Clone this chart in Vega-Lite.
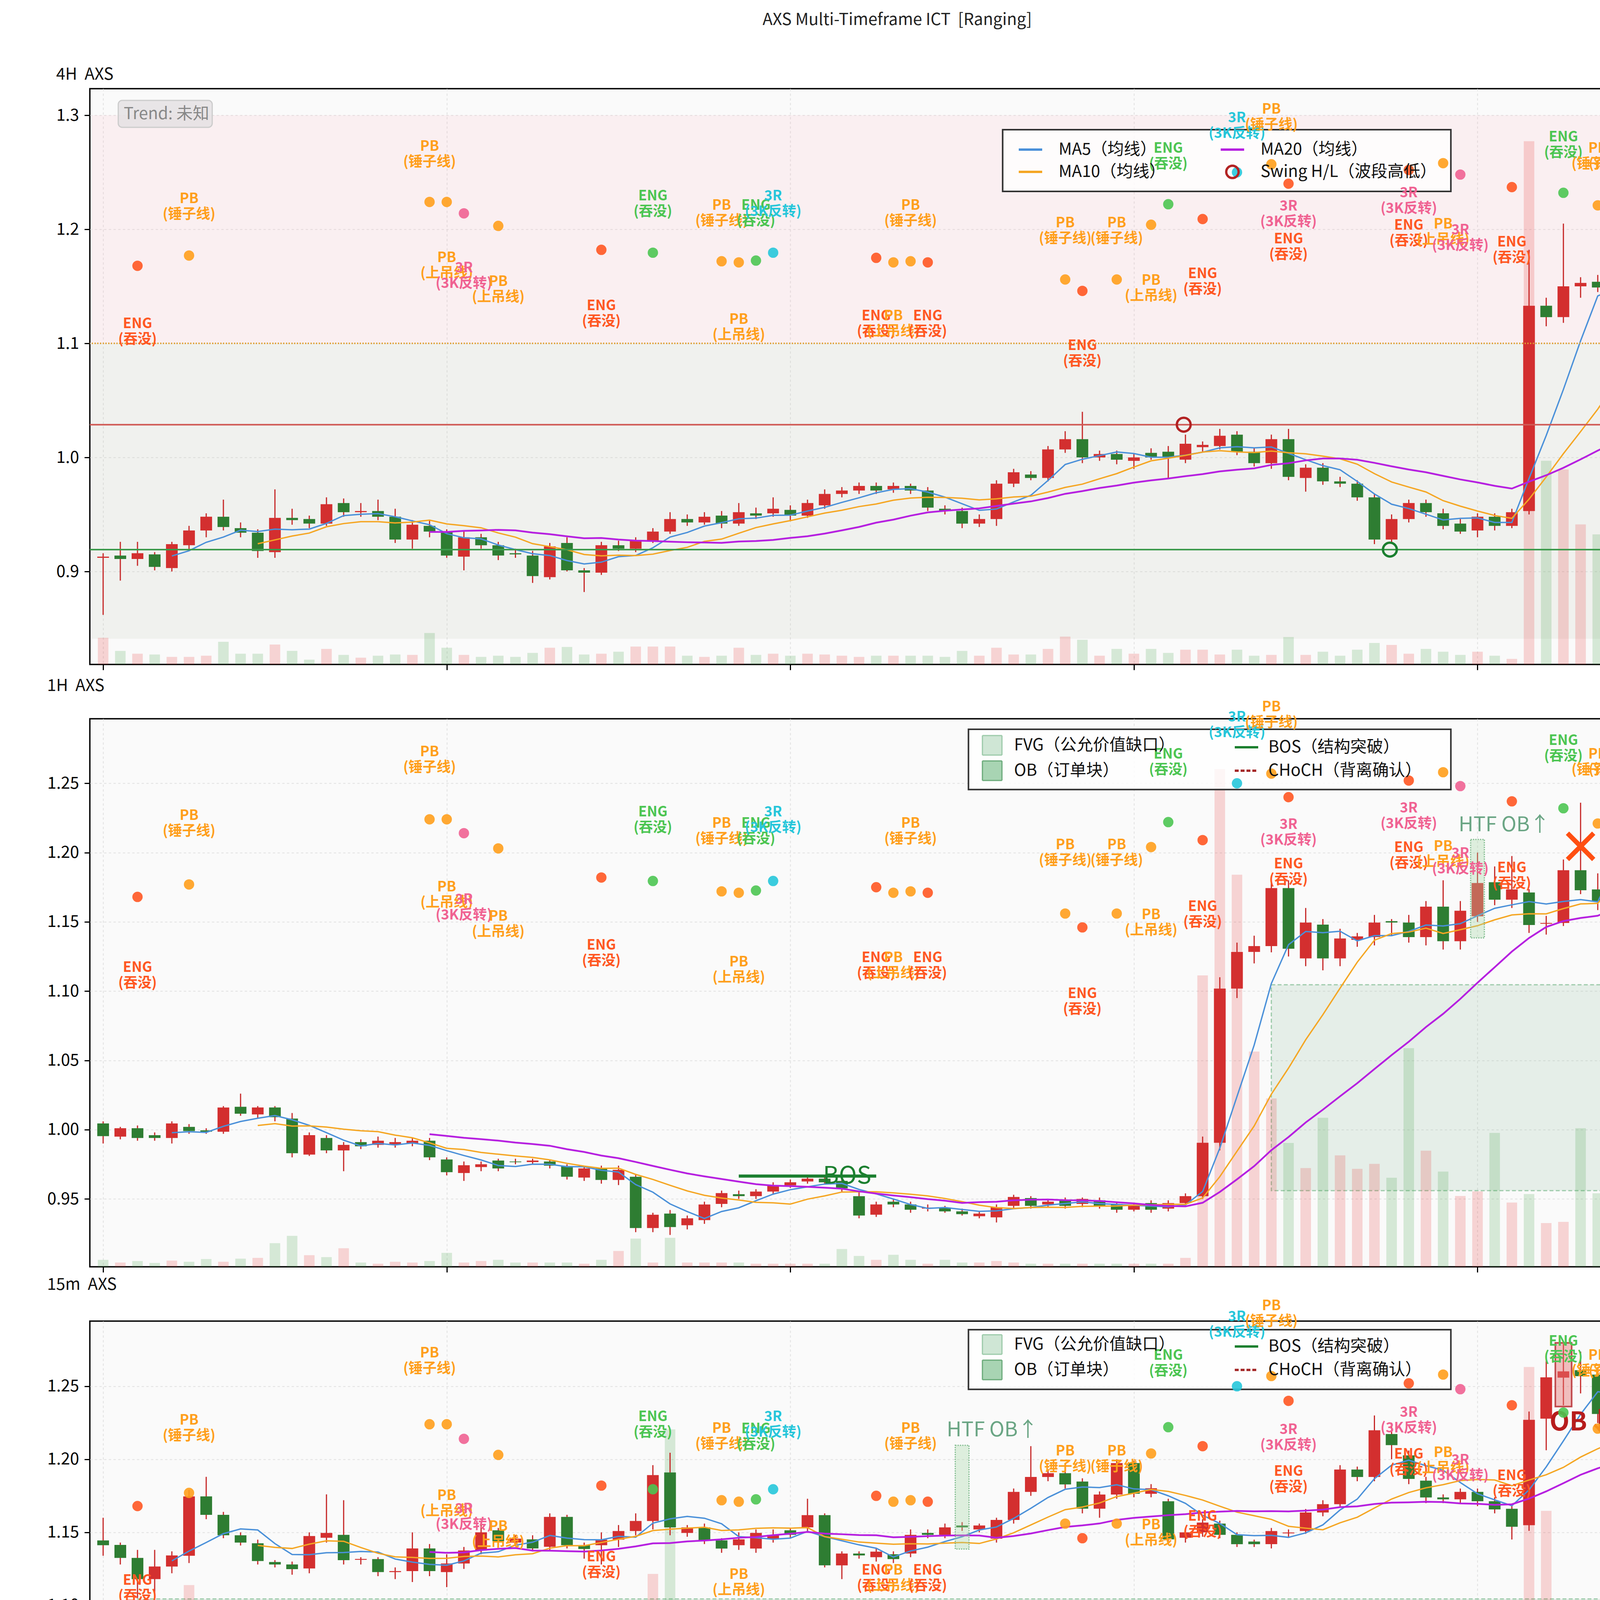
{
"$schema":"https://vega.github.io/schema/vega-lite/v6.json",
"autosize":{"type":"pad"},
"padding":{"left":69,"top":30,"right":80,"bottom":25},
"background":"white",
"title":{"text":"AXS Multi-Timeframe ICT\u00a0 [Ranging]","fontSize":42,"fontWeight":"normal","anchor":"middle","offset":95,"dx":125,"color":"#222222"},
"spacing":139,
"bounds":"flush",
"resolve":{"scale":{"stroke":"independent"},"legend":{"stroke":"independent"}},
"datasets":{
"c1":[{"i":0,"o":0.912,"h":0.916,"l":0.862,"c":0.913,"v":67},{"i":1,"o":0.914,"h":0.926,"l":0.892,"c":0.911,"v":34},{"i":2,"o":0.911,"h":0.926,"l":0.905,"c":0.916,"v":27},{"i":3,"o":0.915,"h":0.917,"l":0.901,"c":0.904,"v":25},{"i":4,"o":0.903,"h":0.926,"l":0.9,"c":0.924,"v":19},{"i":5,"o":0.923,"h":0.94,"l":0.918,"c":0.936,"v":19},{"i":6,"o":0.936,"h":0.951,"l":0.93,"c":0.948,"v":22},{"i":7,"o":0.948,"h":0.963,"l":0.936,"c":0.939,"v":57},{"i":8,"o":0.938,"h":0.943,"l":0.93,"c":0.934,"v":27},{"i":9,"o":0.934,"h":0.937,"l":0.912,"c":0.918,"v":27},{"i":10,"o":0.917,"h":0.972,"l":0.912,"c":0.947,"v":50},{"i":11,"o":0.947,"h":0.955,"l":0.941,"c":0.945,"v":34},{"i":12,"o":0.946,"h":0.949,"l":0.938,"c":0.942,"v":12},{"i":13,"o":0.942,"h":0.965,"l":0.94,"c":0.959,"v":39},{"i":14,"o":0.96,"h":0.964,"l":0.948,"c":0.952,"v":24},{"i":15,"o":0.952,"h":0.96,"l":0.948,"c":0.953,"v":17},{"i":16,"o":0.953,"h":0.963,"l":0.945,"c":0.948,"v":22},{"i":17,"o":0.948,"h":0.955,"l":0.925,"c":0.928,"v":25},{"i":18,"o":0.928,"h":0.945,"l":0.92,"c":0.941,"v":24},{"i":19,"o":0.94,"h":0.945,"l":0.93,"c":0.935,"v":79},{"i":20,"o":0.935,"h":0.937,"l":0.912,"c":0.914,"v":42},{"i":21,"o":0.913,"h":0.935,"l":0.901,"c":0.93,"v":24},{"i":22,"o":0.93,"h":0.933,"l":0.92,"c":0.923,"v":19},{"i":23,"o":0.923,"h":0.926,"l":0.91,"c":0.914,"v":22},{"i":24,"o":0.916,"h":0.92,"l":0.912,"c":0.915,"v":19},{"i":25,"o":0.914,"h":0.918,"l":0.89,"c":0.896,"v":29},{"i":26,"o":0.895,"h":0.925,"l":0.893,"c":0.922,"v":42},{"i":27,"o":0.925,"h":0.93,"l":0.9,"c":0.901,"v":44},{"i":28,"o":0.901,"h":0.903,"l":0.882,"c":0.899,"v":25},{"i":29,"o":0.899,"h":0.926,"l":0.897,"c":0.923,"v":27},{"i":30,"o":0.923,"h":0.927,"l":0.918,"c":0.92,"v":32},{"i":31,"o":0.92,"h":0.93,"l":0.917,"c":0.927,"v":45},{"i":32,"o":0.927,"h":0.938,"l":0.925,"c":0.935,"v":45},{"i":33,"o":0.935,"h":0.952,"l":0.933,"c":0.946,"v":45},{"i":34,"o":0.946,"h":0.95,"l":0.94,"c":0.943,"v":22},{"i":35,"o":0.943,"h":0.952,"l":0.941,"c":0.948,"v":19},{"i":36,"o":0.949,"h":0.953,"l":0.938,"c":0.942,"v":22},{"i":37,"o":0.942,"h":0.96,"l":0.94,"c":0.952,"v":42},{"i":38,"o":0.951,"h":0.956,"l":0.946,"c":0.949,"v":24},{"i":39,"o":0.951,"h":0.965,"l":0.948,"c":0.955,"v":27},{"i":40,"o":0.954,"h":0.958,"l":0.944,"c":0.949,"v":22},{"i":41,"o":0.949,"h":0.963,"l":0.947,"c":0.96,"v":27},{"i":42,"o":0.958,"h":0.972,"l":0.955,"c":0.968,"v":25},{"i":43,"o":0.968,"h":0.974,"l":0.965,"c":0.971,"v":22},{"i":44,"o":0.971,"h":0.978,"l":0.968,"c":0.975,"v":19},{"i":45,"o":0.975,"h":0.978,"l":0.968,"c":0.971,"v":22},{"i":46,"o":0.972,"h":0.978,"l":0.969,"c":0.975,"v":22},{"i":47,"o":0.975,"h":0.977,"l":0.968,"c":0.971,"v":22},{"i":48,"o":0.971,"h":0.974,"l":0.953,"c":0.956,"v":22},{"i":49,"o":0.955,"h":0.958,"l":0.95,"c":0.953,"v":19},{"i":50,"o":0.953,"h":0.956,"l":0.938,"c":0.942,"v":34},{"i":51,"o":0.942,"h":0.95,"l":0.939,"c":0.946,"v":22},{"i":52,"o":0.946,"h":0.98,"l":0.94,"c":0.977,"v":42},{"i":53,"o":0.977,"h":0.99,"l":0.974,"c":0.987,"v":25},{"i":54,"o":0.985,"h":0.988,"l":0.98,"c":0.982,"v":25},{"i":55,"o":0.982,"h":1.01,"l":0.979,"c":1.007,"v":39},{"i":56,"o":1.007,"h":1.023,"l":1.004,"c":1.016,"v":70},{"i":57,"o":1.016,"h":1.04,"l":0.995,"c":1.0,"v":62},{"i":58,"o":1.0,"h":1.006,"l":0.997,"c":1.003,"v":22},{"i":59,"o":1.003,"h":1.006,"l":0.994,"c":0.998,"v":39},{"i":60,"o":0.997,"h":1.003,"l":0.99,"c":1.0,"v":27},{"i":61,"o":1.004,"h":1.008,"l":0.998,"c":1.0,"v":39},{"i":62,"o":1.005,"h":1.01,"l":0.981,"c":1.0,"v":29},{"i":63,"o":0.998,"h":1.02,"l":0.995,"c":1.012,"v":37},{"i":64,"o":1.009,"h":1.014,"l":1.005,"c":1.011,"v":37},{"i":65,"o":1.01,"h":1.025,"l":1.007,"c":1.019,"v":25},{"i":66,"o":1.02,"h":1.023,"l":1.002,"c":1.005,"v":37},{"i":67,"o":1.005,"h":1.008,"l":0.992,"c":0.995,"v":22},{"i":68,"o":0.995,"h":1.02,"l":0.99,"c":1.016,"v":24},{"i":69,"o":1.016,"h":1.025,"l":0.98,"c":0.983,"v":69},{"i":70,"o":0.982,"h":0.994,"l":0.97,"c":0.991,"v":24},{"i":71,"o":0.991,"h":0.995,"l":0.976,"c":0.979,"v":32},{"i":72,"o":0.979,"h":0.983,"l":0.974,"c":0.977,"v":22},{"i":73,"o":0.977,"h":0.98,"l":0.962,"c":0.965,"v":37},{"i":74,"o":0.965,"h":0.968,"l":0.924,"c":0.928,"v":54},{"i":75,"o":0.928,"h":0.95,"l":0.925,"c":0.946,"v":49},{"i":76,"o":0.946,"h":0.963,"l":0.943,"c":0.96,"v":27},{"i":77,"o":0.96,"h":0.963,"l":0.948,"c":0.952,"v":39},{"i":78,"o":0.951,"h":0.955,"l":0.937,"c":0.94,"v":32},{"i":79,"o":0.942,"h":0.946,"l":0.933,"c":0.935,"v":24},{"i":80,"o":0.936,"h":0.951,"l":0.93,"c":0.948,"v":32},{"i":81,"o":0.948,"h":0.951,"l":0.936,"c":0.94,"v":22},{"i":82,"o":0.94,"h":0.955,"l":0.938,"c":0.952,"v":14},{"i":83,"o":0.953,"h":1.182,"l":0.95,"c":1.133,"v":1315},{"i":84,"o":1.133,"h":1.14,"l":1.115,"c":1.123,"v":512},{"i":85,"o":1.123,"h":1.205,"l":1.118,"c":1.15,"v":490},{"i":86,"o":1.15,"h":1.158,"l":1.14,"c":1.153,"v":352},{"i":87,"o":1.154,"h":1.16,"l":1.145,"c":1.149,"v":327},{"i":88,"o":1.149,"h":1.24,"l":1.145,"c":1.165,"v":284},{"i":89,"o":1.165,"h":1.26,"l":1.16,"c":1.222,"v":354}],
"c2":[{"i":0,"o":1.0045,"h":1.006,"l":0.99,"c":0.9953,"v":18},{"i":1,"o":0.995,"h":1.002,"l":0.993,"c":1.001,"v":11},{"i":2,"o":1.001,"h":1.003,"l":0.992,"c":0.994,"v":15},{"i":3,"o":0.996,"h":0.998,"l":0.992,"c":0.994,"v":10},{"i":4,"o":0.994,"h":1.006,"l":0.99,"c":1.0045,"v":16},{"i":5,"o":1.002,"h":1.004,"l":0.997,"c":0.999,"v":13},{"i":6,"o":0.9995,"h":1.001,"l":0.997,"c":0.9985,"v":20},{"i":7,"o":0.9985,"h":1.017,"l":0.997,"c":1.016,"v":13},{"i":8,"o":1.0165,"h":1.026,"l":1.01,"c":1.0115,"v":21},{"i":9,"o":1.011,"h":1.017,"l":1.008,"c":1.016,"v":23},{"i":10,"o":1.016,"h":1.017,"l":1.006,"c":1.009,"v":61},{"i":11,"o":1.008,"h":1.012,"l":0.98,"c":0.983,"v":80},{"i":12,"o":0.982,"h":0.998,"l":0.981,"c":0.996,"v":30},{"i":13,"o":0.994,"h":0.996,"l":0.983,"c":0.985,"v":25},{"i":14,"o":0.985,"h":0.991,"l":0.97,"c":0.989,"v":48},{"i":15,"o":0.991,"h":0.993,"l":0.986,"c":0.988,"v":11},{"i":16,"o":0.989,"h":0.995,"l":0.987,"c":0.992,"v":8},{"i":17,"o":0.989,"h":0.994,"l":0.987,"c":0.991,"v":13},{"i":18,"o":0.99,"h":0.994,"l":0.988,"c":0.992,"v":11},{"i":19,"o":0.992,"h":0.994,"l":0.978,"c":0.98,"v":15},{"i":20,"o":0.9785,"h":0.98,"l":0.967,"c":0.9693,"v":36},{"i":21,"o":0.9687,"h":0.977,"l":0.963,"c":0.9743,"v":11},{"i":22,"o":0.973,"h":0.977,"l":0.97,"c":0.975,"v":15},{"i":23,"o":0.9777,"h":0.979,"l":0.97,"c":0.972,"v":18},{"i":24,"o":0.977,"h":0.979,"l":0.975,"c":0.9765,"v":11},{"i":25,"o":0.9766,"h":0.979,"l":0.975,"c":0.9777,"v":11},{"i":26,"o":0.977,"h":0.978,"l":0.972,"c":0.974,"v":11},{"i":27,"o":0.9738,"h":0.975,"l":0.964,"c":0.966,"v":11},{"i":28,"o":0.9654,"h":0.974,"l":0.963,"c":0.972,"v":8},{"i":29,"o":0.972,"h":0.974,"l":0.961,"c":0.9637,"v":18},{"i":30,"o":0.9637,"h":0.974,"l":0.96,"c":0.971,"v":41},{"i":31,"o":0.966,"h":0.968,"l":0.926,"c":0.929,"v":73},{"i":32,"o":0.929,"h":0.94,"l":0.926,"c":0.9386,"v":11},{"i":33,"o":0.9394,"h":0.942,"l":0.924,"c":0.9297,"v":75},{"i":34,"o":0.931,"h":0.938,"l":0.928,"c":0.936,"v":11},{"i":35,"o":0.9347,"h":0.948,"l":0.932,"c":0.946,"v":11},{"i":36,"o":0.9464,"h":0.956,"l":0.944,"c":0.9542,"v":11},{"i":37,"o":0.9534,"h":0.956,"l":0.95,"c":0.952,"v":11},{"i":38,"o":0.952,"h":0.957,"l":0.95,"c":0.9553,"v":8},{"i":39,"o":0.9553,"h":0.962,"l":0.953,"c":0.9598,"v":8},{"i":40,"o":0.9598,"h":0.964,"l":0.958,"c":0.962,"v":8},{"i":41,"o":0.9626,"h":0.966,"l":0.961,"c":0.9646,"v":8},{"i":42,"o":0.9646,"h":0.967,"l":0.961,"c":0.962,"v":8},{"i":43,"o":0.963,"h":0.966,"l":0.955,"c":0.9576,"v":46},{"i":44,"o":0.952,"h":0.955,"l":0.936,"c":0.938,"v":28},{"i":45,"o":0.9386,"h":0.948,"l":0.937,"c":0.946,"v":18},{"i":46,"o":0.948,"h":0.95,"l":0.944,"c":0.946,"v":31},{"i":47,"o":0.946,"h":0.948,"l":0.94,"c":0.9422,"v":18},{"i":48,"o":0.943,"h":0.946,"l":0.941,"c":0.9437,"v":8},{"i":49,"o":0.9437,"h":0.945,"l":0.94,"c":0.941,"v":18},{"i":50,"o":0.941,"h":0.943,"l":0.938,"c":0.939,"v":11},{"i":51,"o":0.9375,"h":0.941,"l":0.936,"c":0.9394,"v":11},{"i":52,"o":0.9367,"h":0.946,"l":0.933,"c":0.944,"v":15},{"i":53,"o":0.945,"h":0.953,"l":0.943,"c":0.9514,"v":11},{"i":54,"o":0.9506,"h":0.952,"l":0.943,"c":0.945,"v":8},{"i":55,"o":0.946,"h":0.95,"l":0.944,"c":0.948,"v":8},{"i":56,"o":0.9492,"h":0.951,"l":0.943,"c":0.945,"v":8},{"i":57,"o":0.9464,"h":0.951,"l":0.944,"c":0.95,"v":8},{"i":58,"o":0.949,"h":0.951,"l":0.943,"c":0.945,"v":8},{"i":59,"o":0.9464,"h":0.948,"l":0.94,"c":0.9422,"v":8},{"i":60,"o":0.9422,"h":0.947,"l":0.941,"c":0.945,"v":8},{"i":61,"o":0.947,"h":0.949,"l":0.94,"c":0.9422,"v":8},{"i":62,"o":0.943,"h":0.949,"l":0.941,"c":0.947,"v":8},{"i":63,"o":0.947,"h":0.954,"l":0.945,"c":0.952,"v":23},{"i":64,"o":0.952,"h":0.995,"l":0.95,"c":0.9905,"v":753},{"i":65,"o":0.9905,"h":1.11,"l":0.985,"c":1.1018,"v":1286},{"i":66,"o":1.1018,"h":1.135,"l":1.095,"c":1.1283,"v":1013},{"i":67,"o":1.1283,"h":1.14,"l":1.12,"c":1.1325,"v":556},{"i":68,"o":1.1325,"h":1.18,"l":1.128,"c":1.1744,"v":435},{"i":69,"o":1.1744,"h":1.18,"l":1.125,"c":1.1306,"v":320},{"i":70,"o":1.1236,"h":1.16,"l":1.118,"c":1.1495,"v":255},{"i":71,"o":1.148,"h":1.152,"l":1.115,"c":1.1236,"v":385},{"i":72,"o":1.1236,"h":1.145,"l":1.118,"c":1.138,"v":288},{"i":73,"o":1.137,"h":1.142,"l":1.132,"c":1.1395,"v":253},{"i":74,"o":1.139,"h":1.155,"l":1.133,"c":1.1495,"v":266},{"i":75,"o":1.1505,"h":1.152,"l":1.14,"c":1.1495,"v":230},{"i":76,"o":1.1495,"h":1.155,"l":1.135,"c":1.139,"v":565},{"i":77,"o":1.139,"h":1.165,"l":1.133,"c":1.161,"v":300},{"i":78,"o":1.161,"h":1.18,"l":1.13,"c":1.136,"v":246},{"i":79,"o":1.136,"h":1.165,"l":1.13,"c":1.158,"v":183},{"i":80,"o":1.154,"h":1.2,"l":1.15,"c":1.178,"v":195},{"i":81,"o":1.1786,"h":1.19,"l":1.162,"c":1.166,"v":346},{"i":82,"o":1.166,"h":1.1975,"l":1.16,"c":1.1734,"v":166},{"i":83,"o":1.1712,"h":1.1736,"l":1.142,"c":1.1477,"v":188},{"i":84,"o":1.1486,"h":1.1543,"l":1.1408,"c":1.1492,"v":113},{"i":85,"o":1.1492,"h":1.195,"l":1.147,"c":1.1873,"v":116},{"i":86,"o":1.1873,"h":1.236,"l":1.17,"c":1.1728,"v":358},{"i":87,"o":1.1734,"h":1.185,"l":1.1585,"c":1.165,"v":190},{"i":88,"o":1.1658,"h":1.28,"l":1.16,"c":1.2785,"v":713},{"i":89,"o":1.261,"h":1.274,"l":1.2135,"c":1.2232,"v":258}],
"c3":[{"i":0,"o":1.1445,"h":1.16,"l":1.134,"c":1.1412,"v":453},{"i":1,"o":1.1414,"h":1.143,"l":1.128,"c":1.1325,"v":538},{"i":2,"o":1.1325,"h":1.138,"l":1.105,"c":1.118,"v":472},{"i":3,"o":1.118,"h":1.138,"l":1.106,"c":1.1266,"v":373},{"i":4,"o":1.1266,"h":1.137,"l":1.122,"c":1.1342,"v":338},{"i":5,"o":1.134,"h":1.179,"l":1.129,"c":1.1746,"v":678},{"i":6,"o":1.1746,"h":1.188,"l":1.159,"c":1.162,"v":523},{"i":7,"o":1.162,"h":1.164,"l":1.146,"c":1.148,"v":295},{"i":8,"o":1.148,"h":1.15,"l":1.141,"c":1.143,"v":172},{"i":9,"o":1.1425,"h":1.145,"l":1.128,"c":1.1304,"v":378},{"i":10,"o":1.1297,"h":1.131,"l":1.126,"c":1.128,"v":227},{"i":11,"o":1.128,"h":1.13,"l":1.121,"c":1.1248,"v":180},{"i":12,"o":1.1253,"h":1.15,"l":1.122,"c":1.1475,"v":285},{"i":13,"o":1.1463,"h":1.176,"l":1.143,"c":1.1496,"v":400},{"i":14,"o":1.1483,"h":1.172,"l":1.128,"c":1.131,"v":477},{"i":15,"o":1.1312,"h":1.133,"l":1.128,"c":1.1318,"v":473},{"i":16,"o":1.1317,"h":1.133,"l":1.12,"c":1.1228,"v":278},{"i":17,"o":1.1228,"h":1.126,"l":1.118,"c":1.1235,"v":415},{"i":18,"o":1.1235,"h":1.15,"l":1.116,"c":1.139,"v":390},{"i":19,"o":1.139,"h":1.142,"l":1.12,"c":1.1235,"v":220},{"i":20,"o":1.1228,"h":1.135,"l":1.1125,"c":1.1287,"v":132},{"i":21,"o":1.1287,"h":1.14,"l":1.125,"c":1.1376,"v":473},{"i":22,"o":1.1376,"h":1.158,"l":1.135,"c":1.15,"v":338},{"i":23,"o":1.1514,"h":1.153,"l":1.14,"c":1.144,"v":225},{"i":24,"o":1.143,"h":1.148,"l":1.141,"c":1.1457,"v":228},{"i":25,"o":1.1452,"h":1.148,"l":1.137,"c":1.139,"v":285},{"i":26,"o":1.1401,"h":1.163,"l":1.138,"c":1.1606,"v":315},{"i":27,"o":1.1606,"h":1.162,"l":1.139,"c":1.1412,"v":270},{"i":28,"o":1.1412,"h":1.143,"l":1.132,"c":1.1386,"v":235},{"i":29,"o":1.1412,"h":1.15,"l":1.128,"c":1.145,"v":320},{"i":30,"o":1.145,"h":1.155,"l":1.14,"c":1.1509,"v":238},{"i":31,"o":1.1509,"h":1.163,"l":1.148,"c":1.1578,"v":373},{"i":32,"o":1.1578,"h":1.196,"l":1.152,"c":1.1892,"v":708},{"i":33,"o":1.191,"h":1.2045,"l":1.148,"c":1.1534,"v":1095},{"i":34,"o":1.1496,"h":1.155,"l":1.147,"c":1.1534,"v":223},{"i":35,"o":1.1534,"h":1.156,"l":1.142,"c":1.1445,"v":333},{"i":36,"o":1.1445,"h":1.146,"l":1.136,"c":1.1389,"v":203},{"i":37,"o":1.1412,"h":1.15,"l":1.138,"c":1.1452,"v":223},{"i":38,"o":1.1389,"h":1.152,"l":1.136,"c":1.1496,"v":343},{"i":39,"o":1.1452,"h":1.152,"l":1.143,"c":1.1483,"v":220},{"i":40,"o":1.1514,"h":1.153,"l":1.146,"c":1.1483,"v":250},{"i":41,"o":1.1534,"h":1.173,"l":1.15,"c":1.1618,"v":468},{"i":42,"o":1.1618,"h":1.163,"l":1.126,"c":1.1274,"v":528},{"i":43,"o":1.1274,"h":1.137,"l":1.118,"c":1.1355,"v":290},{"i":44,"o":1.1355,"h":1.137,"l":1.132,"c":1.1342,"v":107},{"i":45,"o":1.133,"h":1.139,"l":1.13,"c":1.1368,"v":130},{"i":46,"o":1.135,"h":1.137,"l":1.129,"c":1.1317,"v":168},{"i":47,"o":1.1355,"h":1.152,"l":1.133,"c":1.1483,"v":185},{"i":48,"o":1.1496,"h":1.152,"l":1.146,"c":1.1483,"v":265},{"i":49,"o":1.1483,"h":1.156,"l":1.146,"c":1.1534,"v":158},{"i":50,"o":1.1547,"h":1.157,"l":1.151,"c":1.1534,"v":112},{"i":51,"o":1.152,"h":1.156,"l":1.15,"c":1.1547,"v":222},{"i":52,"o":1.1457,"h":1.16,"l":1.143,"c":1.1585,"v":188},{"i":53,"o":1.1585,"h":1.18,"l":1.156,"c":1.1777,"v":305},{"i":54,"o":1.1777,"h":1.209,"l":1.175,"c":1.1879,"v":577},{"i":55,"o":1.1879,"h":1.193,"l":1.185,"c":1.1905,"v":270},{"i":56,"o":1.1905,"h":1.193,"l":1.18,"c":1.1828,"v":418},{"i":57,"o":1.1848,"h":1.187,"l":1.163,"c":1.1662,"v":207},{"i":58,"o":1.1662,"h":1.178,"l":1.16,"c":1.1759,"v":138},{"i":59,"o":1.1759,"h":1.2,"l":1.173,"c":1.1974,"v":190},{"i":60,"o":1.1974,"h":1.199,"l":1.174,"c":1.1764,"v":220},{"i":61,"o":1.1764,"h":1.183,"l":1.174,"c":1.1802,"v":158},{"i":62,"o":1.1713,"h":1.173,"l":1.142,"c":1.1452,"v":280},{"i":63,"o":1.1463,"h":1.152,"l":1.143,"c":1.15,"v":270},{"i":64,"o":1.15,"h":1.159,"l":1.147,"c":1.1567,"v":142},{"i":65,"o":1.156,"h":1.158,"l":1.146,"c":1.1483,"v":125},{"i":66,"o":1.1483,"h":1.15,"l":1.14,"c":1.1419,"v":188},{"i":67,"o":1.1437,"h":1.145,"l":1.14,"c":1.1419,"v":128},{"i":68,"o":1.1419,"h":1.153,"l":1.139,"c":1.1509,"v":83},{"i":69,"o":1.1493,"h":1.152,"l":1.147,"c":1.1499,"v":82},{"i":70,"o":1.1509,"h":1.166,"l":1.149,"c":1.1636,"v":115},{"i":71,"o":1.1636,"h":1.172,"l":1.161,"c":1.1693,"v":72},{"i":72,"o":1.1693,"h":1.196,"l":1.167,"c":1.193,"v":173},{"i":73,"o":1.193,"h":1.195,"l":1.185,"c":1.1879,"v":135},{"i":74,"o":1.1879,"h":1.23,"l":1.185,"c":1.2199,"v":408},{"i":75,"o":1.2173,"h":1.225,"l":1.2,"c":1.2097,"v":538},{"i":76,"o":1.2027,"h":1.206,"l":1.183,"c":1.1866,"v":340},{"i":77,"o":1.1854,"h":1.188,"l":1.17,"c":1.1739,"v":245},{"i":78,"o":1.1739,"h":1.176,"l":1.17,"c":1.1726,"v":185},{"i":79,"o":1.1726,"h":1.18,"l":1.17,"c":1.1777,"v":175},{"i":80,"o":1.1777,"h":1.18,"l":1.168,"c":1.1713,"v":248},{"i":81,"o":1.1713,"h":1.174,"l":1.163,"c":1.1657,"v":202},{"i":82,"o":1.1661,"h":1.1697,"l":1.1451,"c":1.1538,"v":318},{"i":83,"o":1.1549,"h":1.2327,"l":1.151,"c":1.227,"v":1262},{"i":84,"o":1.2278,"h":1.2724,"l":1.2062,"c":1.2561,"v":877},{"i":85,"o":1.2559,"h":1.279,"l":1.237,"c":1.2602,"v":600},{"i":86,"o":1.261,"h":1.2737,"l":1.2451,"c":1.2569,"v":412},{"i":87,"o":1.258,"h":1.2604,"l":1.2248,"c":1.231,"v":425},{"i":88,"o":1.2302,"h":1.2327,"l":1.2135,"c":1.2217,"v":265},{"i":89,"o":1.223,"h":1.2232,"l":1.222,"c":1.2224,"v":0}],
"c4":[{"i":0,"o":1.1702,"h":1.174,"l":1.169,"c":1.1725,"v":20},{"i":1,"o":1.1725,"h":1.177,"l":1.171,"c":1.1753,"v":48},{"i":2,"o":1.1753,"h":1.176,"l":1.167,"c":1.1682,"v":48},{"i":3,"o":1.1692,"h":1.17,"l":1.168,"c":1.1688,"v":13},{"i":4,"o":1.1682,"h":1.177,"l":1.166,"c":1.1753,"v":33},{"i":5,"o":1.1753,"h":1.179,"l":1.174,"c":1.1776,"v":33},{"i":6,"o":1.1776,"h":1.185,"l":1.176,"c":1.1815,"v":68},{"i":7,"o":1.1815,"h":1.195,"l":1.18,"c":1.1937,"v":122},{"i":8,"o":1.1928,"h":1.196,"l":1.191,"c":1.1934,"v":114},{"i":9,"o":1.1937,"h":1.195,"l":1.18,"c":1.1815,"v":66},{"i":10,"o":1.1815,"h":1.183,"l":1.175,"c":1.1767,"v":83},{"i":11,"o":1.1759,"h":1.177,"l":1.173,"c":1.1747,"v":15},{"i":12,"o":1.1753,"h":1.18,"l":1.174,"c":1.1787,"v":70},{"i":13,"o":1.1787,"h":1.189,"l":1.177,"c":1.1875,"v":53},{"i":14,"o":1.1875,"h":1.189,"l":1.179,"c":1.181,"v":43},{"i":15,"o":1.181,"h":1.187,"l":1.18,"c":1.1852,"v":55},{"i":16,"o":1.1852,"h":1.198,"l":1.184,"c":1.1965,"v":90},{"i":17,"o":1.1957,"h":1.21,"l":1.195,"c":1.2087,"v":165},{"i":18,"o":1.2087,"h":1.231,"l":1.207,"c":1.2192,"v":526},{"i":19,"o":1.2183,"h":1.228,"l":1.206,"c":1.2234,"v":246},{"i":20,"o":1.2234,"h":1.229,"l":1.218,"c":1.222,"v":298},{"i":21,"o":1.222,"h":1.224,"l":1.212,"c":1.2135,"v":216},{"i":22,"o":1.2135,"h":1.215,"l":1.2,"c":1.207,"v":138},{"i":23,"o":1.207,"h":1.209,"l":1.198,"c":1.203,"v":256},{"i":24,"o":1.203,"h":1.205,"l":1.197,"c":1.1993,"v":125},{"i":25,"o":1.1985,"h":1.2,"l":1.195,"c":1.197,"v":186},{"i":26,"o":1.1965,"h":1.198,"l":1.184,"c":1.1894,"v":168},{"i":27,"o":1.1889,"h":1.19,"l":1.184,"c":1.1852,"v":170},{"i":28,"o":1.1846,"h":1.187,"l":1.183,"c":1.186,"v":81},{"i":29,"o":1.186,"h":1.187,"l":1.18,"c":1.1824,"v":153},{"i":30,"o":1.1818,"h":1.183,"l":1.178,"c":1.1795,"v":93},{"i":31,"o":1.1795,"h":1.181,"l":1.172,"c":1.1753,"v":175},{"i":32,"o":1.1747,"h":1.181,"l":1.173,"c":1.1795,"v":45},{"i":33,"o":1.1795,"h":1.181,"l":1.172,"c":1.173,"v":58},{"i":34,"o":1.1728,"h":1.175,"l":1.171,"c":1.1732,"v":90},{"i":35,"o":1.1725,"h":1.174,"l":1.166,"c":1.1696,"v":93},{"i":36,"o":1.1696,"h":1.172,"l":1.168,"c":1.171,"v":91},{"i":37,"o":1.1713,"h":1.172,"l":1.167,"c":1.1705,"v":98},{"i":38,"o":1.1705,"h":1.174,"l":1.169,"c":1.1725,"v":25},{"i":39,"o":1.1739,"h":1.181,"l":1.173,"c":1.1795,"v":121},{"i":40,"o":1.1795,"h":1.183,"l":1.178,"c":1.181,"v":86},{"i":41,"o":1.181,"h":1.187,"l":1.18,"c":1.1852,"v":50},{"i":42,"o":1.1844,"h":1.186,"l":1.179,"c":1.1804,"v":51},{"i":43,"o":1.181,"h":1.182,"l":1.177,"c":1.1787,"v":68},{"i":44,"o":1.1787,"h":1.186,"l":1.178,"c":1.1838,"v":76},{"i":45,"o":1.1838,"h":1.185,"l":1.172,"c":1.1747,"v":203},{"i":46,"o":1.173,"h":1.174,"l":1.17,"c":1.1719,"v":83},{"i":47,"o":1.1719,"h":1.175,"l":1.167,"c":1.173,"v":108},{"i":48,"o":1.1753,"h":1.177,"l":1.17,"c":1.1719,"v":58},{"i":49,"o":1.171,"h":1.174,"l":1.169,"c":1.1725,"v":121},{"i":50,"o":1.171,"h":1.172,"l":1.167,"c":1.169,"v":58},{"i":51,"o":1.169,"h":1.171,"l":1.165,"c":1.1668,"v":173},{"i":52,"o":1.1662,"h":1.167,"l":1.158,"c":1.1597,"v":28},{"i":53,"o":1.1597,"h":1.17,"l":1.158,"c":1.166,"v":196},{"i":54,"o":1.1668,"h":1.168,"l":1.156,"c":1.1617,"v":176},{"i":55,"o":1.1617,"h":1.163,"l":1.154,"c":1.1555,"v":101},{"i":56,"o":1.1563,"h":1.161,"l":1.152,"c":1.1583,"v":86},{"i":57,"o":1.1563,"h":1.158,"l":1.146,"c":1.1484,"v":121},{"i":58,"o":1.1476,"h":1.157,"l":1.146,"c":1.1549,"v":93},{"i":59,"o":1.1555,"h":1.158,"l":1.153,"c":1.1569,"v":30},{"i":60,"o":1.1541,"h":1.213,"l":1.152,"c":1.2064,"v":936},{"i":61,"o":1.176,"h":1.18,"l":1.165,"c":1.168,"v":1108},{"i":62,"o":1.2036,"h":1.2234,"l":1.2,"c":1.2163,"v":291},{"i":63,"o":1.2163,"h":1.232,"l":1.214,"c":1.2276,"v":418},{"i":64,"o":1.2276,"h":1.229,"l":1.205,"c":1.215,"v":416},{"i":65,"o":1.2107,"h":1.218,"l":1.209,"c":1.215,"v":183},{"i":66,"o":1.2163,"h":1.252,"l":1.214,"c":1.2494,"v":353},{"i":67,"o":1.2503,"h":1.262,"l":1.248,"c":1.2574,"v":578},{"i":68,"o":1.2545,"h":1.259,"l":1.252,"c":1.2565,"v":356},{"i":69,"o":1.2559,"h":1.258,"l":1.238,"c":1.2404,"v":221},{"i":70,"o":1.2404,"h":1.25,"l":1.239,"c":1.2475,"v":308},{"i":71,"o":1.2475,"h":1.262,"l":1.246,"c":1.2588,"v":321},{"i":72,"o":1.2588,"h":1.278,"l":1.257,"c":1.2743,"v":225},{"i":73,"o":1.2729,"h":1.275,"l":1.261,"c":1.263,"v":215},{"i":74,"o":1.2644,"h":1.277,"l":1.262,"c":1.2743,"v":230},{"i":75,"o":1.2658,"h":1.2737,"l":1.264,"c":1.2729,"v":231},{"i":76,"o":1.2729,"h":1.275,"l":1.255,"c":1.2574,"v":158},{"i":77,"o":1.252,"h":1.2585,"l":1.248,"c":1.2567,"v":125},{"i":78,"o":1.256,"h":1.2596,"l":1.2534,"c":1.2585,"v":141},{"i":79,"o":1.2585,"h":1.2628,"l":1.2426,"c":1.2483,"v":156},{"i":80,"o":1.2485,"h":1.2528,"l":1.2438,"c":1.2481,"v":208},{"i":81,"o":1.2503,"h":1.2553,"l":1.2474,"c":1.2534,"v":276},{"i":82,"o":1.2542,"h":1.2545,"l":1.235,"c":1.2373,"v":153},{"i":83,"o":1.2373,"h":1.2422,"l":1.2283,"c":1.2314,"v":122},{"i":84,"o":1.2303,"h":1.2331,"l":1.2226,"c":1.228,"v":141},{"i":85,"o":1.2275,"h":1.2463,"l":1.2268,"c":1.2328,"v":140},{"i":86,"o":1.2317,"h":1.233,"l":1.2225,"c":1.226,"v":106},{"i":87,"o":1.2205,"h":1.223,"l":1.218,"c":1.2215,"v":78},{"i":88,"o":1.22,"h":1.2235,"l":1.2165,"c":1.2212,"v":118},{"i":89,"o":1.2236,"h":1.2238,"l":1.2231,"c":1.2233,"v":0}],
"dots":[{"i":2,"y":1.168,"k":"ENG_dn"},{"i":5,"y":1.177,"k":"PB"},{"i":19,"y":1.224,"k":"PB"},{"i":20,"y":1.224,"k":"PB"},{"i":21,"y":1.214,"k":"3R_dn"},{"i":23,"y":1.203,"k":"PB"},{"i":29,"y":1.182,"k":"ENG_dn"},{"i":32,"y":1.1795,"k":"ENG_up"},{"i":36,"y":1.172,"k":"PB"},{"i":37,"y":1.171,"k":"PB"},{"i":38,"y":1.1726,"k":"ENG_up"},{"i":39,"y":1.1795,"k":"3R_up"},{"i":45,"y":1.175,"k":"ENG_dn"},{"i":46,"y":1.171,"k":"PB"},{"i":47,"y":1.172,"k":"PB"},{"i":48,"y":1.171,"k":"ENG_dn"},{"i":56,"y":1.156,"k":"PB"},{"i":57,"y":1.146,"k":"ENG_dn"},{"i":59,"y":1.156,"k":"PB"},{"i":61,"y":1.204,"k":"PB"},{"i":62,"y":1.222,"k":"ENG_up"},{"i":64,"y":1.209,"k":"ENG_dn"},{"i":66,"y":1.25,"k":"3R_up"},{"i":68,"y":1.257,"k":"PB"},{"i":69,"y":1.24,"k":"ENG_dn"},{"i":76,"y":1.252,"k":"ENG_dn"},{"i":78,"y":1.258,"k":"PB"},{"i":79,"y":1.248,"k":"3R_dn"},{"i":82,"y":1.237,"k":"ENG_dn"},{"i":85,"y":1.232,"k":"ENG_up"},{"i":87,"y":1.221,"k":"PB"},{"i":88,"y":1.223,"k":"PB"}],
"labs":[{"i":2,"y":1.117,"t":"ENG\n(吞没)","k":"ENG_dn"},{"i":5,"y":1.2266,"t":"PB\n(锤子线)","k":"PB"},{"i":19,"y":1.2727,"t":"PB\n(锤子线)","k":"PB"},{"i":20,"y":1.175,"t":"PB\n(上吊线)","k":"PB"},{"i":21,"y":1.166,"t":"3R\n(3K反转)","k":"3R_dn"},{"i":23,"y":1.154,"t":"PB\n(上吊线)","k":"PB"},{"i":29,"y":1.133,"t":"ENG\n(吞没)","k":"ENG_dn"},{"i":32,"y":1.2291,"t":"ENG\n(吞没)","k":"ENG_up"},{"i":36,"y":1.221,"t":"PB\n(锤子线)","k":"PB"},{"i":37,"y":1.121,"t":"PB\n(上吊线)","k":"PB"},{"i":38,"y":1.2209,"t":"ENG\n(吞没)","k":"ENG_up"},{"i":39,"y":1.2291,"t":"3R\n(3K反转)","k":"3R_up"},{"i":45,"y":1.124,"t":"ENG\n(吞没)","k":"ENG_dn"},{"i":46,"y":1.124,"t":"PB\n(上吊线)","k":"PB"},{"i":47,"y":1.221,"t":"PB\n(锤子线)","k":"PB"},{"i":48,"y":1.124,"t":"ENG\n(吞没)","k":"ENG_dn"},{"i":56,"y":1.2056,"t":"PB\n(锤子线)","k":"PB"},{"i":57,"y":1.098,"t":"ENG\n(吞没)","k":"ENG_dn"},{"i":59,"y":1.2056,"t":"PB\n(锤子线)","k":"PB"},{"i":61,"y":1.155,"t":"PB\n(上吊线)","k":"PB"},{"i":62,"y":1.271,"t":"ENG\n(吞没)","k":"ENG_up"},{"i":64,"y":1.161,"t":"ENG\n(吞没)","k":"ENG_dn"},{"i":66,"y":1.2976,"t":"3R\n(3K反转)","k":"3R_up"},{"i":68,"y":1.305,"t":"PB\n(锤子线)","k":"PB"},{"i":69,"y":1.2203,"t":"3R\n(3K反转)","k":"3R_dn"},{"i":69,"y":1.1916,"t":"ENG\n(吞没)","k":"ENG_dn"},{"i":76,"y":1.232,"t":"3R\n(3K反转)","k":"3R_dn"},{"i":76,"y":1.2035,"t":"ENG\n(吞没)","k":"ENG_dn"},{"i":78,"y":1.2045,"t":"PB\n(上吊线)","k":"PB"},{"i":79,"y":1.1993,"t":"3R\n(3K反转)","k":"3R_dn"},{"i":82,"y":1.1888,"t":"ENG\n(吞没)","k":"ENG_dn"},{"i":85,"y":1.2808,"t":"ENG\n(吞没)","k":"ENG_up"},{"i":87,"y":1.271,"t":"PB\n(锤子线)","k":"PB"},{"i":88,"y":1.271,"t":"PB\n(锤子线)","k":"PB"}],
"rects":[{"p":1,"k":"prem","x1":-0.66,"x2":89.7,"y1":1.1,"y2":1.3},{"p":1,"k":"disc","x1":-0.66,"x2":89.7,"y1":0.841,"y2":1.1},{"p":1,"k":"trend","x1":0.88,"x2":6.35,"y1":1.2894,"y2":1.313},{"p":1,"k":"leg","x1":52.36,"x2":78.45,"y1":1.2332,"y2":1.2873},{"p":2,"k":"fvg","x1":68.0,"x2":89.5,"y1":0.956,"y2":1.1046},{"p":2,"k":"htf","x1":79.6,"x2":80.4,"y1":1.1384,"y2":1.2095},{"p":2,"k":"ob","x1":87.53,"x2":88.48,"y1":1.1458,"y2":1.28},{"p":2,"k":"fvgs","x1":88.98,"x2":89.52,"y1":1.1853,"y2":1.2133},{"p":2,"k":"leg","x1":50.37,"x2":78.45,"y1":1.2455,"y2":1.289},{"p":3,"k":"fvg","x1":2.0,"x2":89.5,"y1":0.9567,"y2":1.1044},{"p":3,"k":"htf","x1":49.6,"x2":50.4,"y1":1.1386,"y2":1.2096},{"p":3,"k":"ob","x1":84.53,"x2":85.48,"y1":1.2361,"y2":1.2797},{"p":3,"k":"fvgb","x1":89.0,"x2":89.5,"y1":1.2227,"y2":1.2262},{"p":3,"k":"leg","x1":50.37,"x2":78.45,"y1":1.2479,"y2":1.2887},{"p":4,"k":"fvg","x1":0.0,"x2":89.5,"y1":0.9566,"y2":1.1046},{"p":4,"k":"leg","x1":51.12,"x2":78.45,"y1":1.2438,"y2":1.2886}],
"hl":[{"p":1,"k":"res","y":1.0287},{"p":1,"k":"sup","y":0.9192},{"p":1,"k":"mid","y":1.1},{"p":4,"k":"eqh","y":1.2224},{"p":4,"k":"eql","y":1.2159}],
"seg":[{"p":2,"k":"bos","x1":37,"x2":45,"y":0.9665}],
"pt":[{"p":1,"k":"swh","i":62.9,"y":1.0287},{"p":1,"k":"swl","i":74.9,"y":0.9192},{"p":2,"k":"x","i":86,"y":1.2045},{"p":3,"k":"x","i":88,"y":1.2361},{"p":4,"k":"entry","i":72,"y":1.28},{"p":4,"k":"disp","i":82,"y":1.2373},{"p":4,"k":"disp","i":86,"y":1.2204}],
"tx":[{"p":1,"k":"trend","i":1.2,"y":1.3012,"t":"Trend: 未知"},{"p":2,"k":"bos","i":41.9,"y":0.9665,"t":"BOS"},{"p":2,"k":"htf","i":78.9,"y":1.2198,"t":"HTF OB↑"},{"p":2,"k":"ob","i":87.25,"y":1.1342,"t":"OB↓"},{"p":3,"k":"htf","i":49.1,"y":1.22,"t":"HTF OB↑"},{"p":3,"k":"ob","i":84.2,"y":1.2252,"t":"OB↓"},{"p":4,"k":"eqh","i":87.1,"y":1.2294,"t":"EQH"},{"p":4,"k":"eql","i":87.3,"y":1.21,"t":"EQL"},{"p":4,"k":"entry","i":72,"y":1.2875,"t":"Entry Ref"}]
},
"vconcat":[
{
"title":{"text":"4H\u00a0 AXS","anchor":"start","fontSize":42,"fontWeight":"normal","offset":14},
"width":3984,"height":1474,
"resolve":{"scale":{"y":"independent"}},
"layer":[
{"data":{"name":"rects"},"layer":[
{"transform":[{"filter":"datum.p==1 && datum.k=='prem'"}],"mark":{"type":"rect","fill":"#ff8fab","fillOpacity":0.1},"encoding":{"x":{"field":"x1","type":"quantitative","scale":{"domain":[-0.66,89.7],"nice":false,"zero":false},"axis":{"title":null}},"x2":{"field":"x2"},"y":{"field":"y1","type":"quantitative","scale":{"domain":[0.8185,1.3233],"nice":false,"zero":false},"axis":null},"y2":{"field":"y2"}}},
{"transform":[{"filter":"datum.p==1 && datum.k=='disc'"}],"mark":{"type":"rect","fill":"#a9b8a0","fillOpacity":0.12},"encoding":{"x":{"field":"x1","type":"quantitative","scale":{"domain":[-0.66,89.7],"nice":false,"zero":false},"axis":{"title":null}},"x2":{"field":"x2"},"y":{"field":"y1","type":"quantitative","scale":{"domain":[0.8185,1.3233],"nice":false,"zero":false},"axis":null},"y2":{"field":"y2"}}}
]},
{"data":{"name":"c1"},"mark":{"type":"bar","size":27,"opacity":0.2},"encoding":{"x":{"field":"i","type":"quantitative","scale":{"domain":[-0.66,89.7],"nice":false,"zero":false},"axis":{"title":null}},"y":{"field":"v","type":"quantitative","scale":{"domain":[0,1447],"nice":false},"axis":null},"color":{"condition":{"test":"datum.c>=datum.o","value":"#e53935"},"value":"#43a047"}}},
{"layer":[
{"data":{"name":"c1"},"mark":{"type":"rule","color":"#c62828","strokeWidth":3},"encoding":{"x":{"field":"i","type":"quantitative","scale":{"domain":[-0.66,89.7],"nice":false,"zero":false},"axis":{"values":[0,20,40,60,80],"labels":false,"title":null,"grid":true}},"y":{"field":"l","type":"quantitative","scale":{"domain":[0.8185,1.3233],"nice":false,"zero":false},"axis":{"orient":"left","values":[0.9,1.0,1.1,1.2,1.3],"format":".1f","title":null,"grid":true}},"y2":{"field":"h"}}},
{"data":{"name":"c1"},"mark":{"type":"bar","size":30},"encoding":{"x":{"field":"i","type":"quantitative","scale":{"domain":[-0.66,89.7],"nice":false,"zero":false},"axis":{"title":null}},"y":{"field":"o","type":"quantitative","scale":{"domain":[0.8185,1.3233],"nice":false,"zero":false},"axis":{"title":null}},"y2":{"field":"c"},"color":{"condition":{"test":"datum.c>=datum.o","value":"#d32f2f"},"value":"#2e7d32"}}},
{"data":{"name":"c1"},"transform":[{"window":[{"op":"mean","field":"c","as":"m"},{"op":"count","as":"n"}],"frame":[-4,0],"sort":[{"field":"i","order":"ascending"}]},{"filter":"datum.n==5"}],"mark":{"type":"line","strokeWidth":3.5},"encoding":{"x":{"field":"i","type":"quantitative","scale":{"domain":[-0.66,89.7],"nice":false,"zero":false},"axis":{"title":null}},"y":{"field":"m","type":"quantitative","scale":{"domain":[0.8185,1.3233],"nice":false,"zero":false},"axis":{"title":null}},"stroke":{"datum":"MA5（均线）","type":"nominal","scale":{"domain":["MA5（均线）","MA10（均线）","MA20（均线）","Swing H/L（波段高低）"],"range":["#4a90d9","#f5a623","#b620e0","#b22222"]},"legend":{"title":null,"orient":"none","legendX":2375,"legendY":123,"columns":2,"columnPadding":128,"rowPadding":3,"padding":0,"symbolType":"stroke","symbolSize":3600,"symbolStrokeWidth":6,"labelFontSize":42,"labelOffset":39,"labelColor":"#111111","labelLimit":1000,"encode":{"symbols":{"update":{"shape":{"signal":"datum.value === 'Swing H/L（波段高低）' ? 'circle' : 'stroke'"},"size":{"signal":"datum.value === 'Swing H/L（波段高低）' ? 1000 : 3600"},"fill":{"value":"transparent"}}}}}}}},
{"data":{"name":"c1"},"transform":[{"window":[{"op":"mean","field":"c","as":"m"},{"op":"count","as":"n"}],"frame":[-9,0],"sort":[{"field":"i","order":"ascending"}]},{"filter":"datum.n==10"}],"mark":{"type":"line","strokeWidth":3.5},"encoding":{"x":{"field":"i","type":"quantitative","scale":{"domain":[-0.66,89.7],"nice":false,"zero":false},"axis":{"title":null}},"y":{"field":"m","type":"quantitative","scale":{"domain":[0.8185,1.3233],"nice":false,"zero":false},"axis":{"title":null}},"stroke":{"datum":"MA10（均线）","type":"nominal"}}},
{"data":{"name":"c1"},"transform":[{"window":[{"op":"mean","field":"c","as":"m"},{"op":"count","as":"n"}],"frame":[-19,0],"sort":[{"field":"i","order":"ascending"}]},{"filter":"datum.n==20"}],"mark":{"type":"line","strokeWidth":4.5},"encoding":{"x":{"field":"i","type":"quantitative","scale":{"domain":[-0.66,89.7],"nice":false,"zero":false},"axis":{"title":null}},"y":{"field":"m","type":"quantitative","scale":{"domain":[0.8185,1.3233],"nice":false,"zero":false},"axis":{"title":null}},"stroke":{"datum":"MA20（均线）","type":"nominal"}}},
{"data":{"name":"hl"},"transform":[{"filter":"datum.p==1 && datum.k=='res'"}],"mark":{"type":"rule","color":"#d05a55","strokeWidth":4},"encoding":{"y":{"field":"y","type":"quantitative","scale":{"domain":[0.8185,1.3233],"nice":false,"zero":false},"axis":{"title":null}}}},
{"data":{"name":"hl"},"transform":[{"filter":"datum.p==1 && datum.k=='sup'"}],"mark":{"type":"rule","color":"#3c9a4c","strokeWidth":4},"encoding":{"y":{"field":"y","type":"quantitative","scale":{"domain":[0.8185,1.3233],"nice":false,"zero":false},"axis":{"title":null}}}},
{"data":{"name":"hl"},"transform":[{"filter":"datum.p==1 && datum.k=='mid'"}],"mark":{"type":"rule","color":"#e0a030","strokeWidth":4,"strokeDash":[3,4]},"encoding":{"y":{"field":"y","type":"quantitative","scale":{"domain":[0.8185,1.3233],"nice":false,"zero":false},"axis":{"title":null}}}},
{"data":{"name":"rects"},"transform":[{"filter":"datum.p==1 && datum.k=='leg'"}],"mark":{"type":"rect","fill":"#ffffff","fillOpacity":0.8,"stroke":"#333333","strokeWidth":4},"encoding":{"x":{"field":"x1","type":"quantitative","scale":{"domain":[-0.66,89.7],"nice":false,"zero":false},"axis":{"title":null}},"x2":{"field":"x2"},"y":{"field":"y1","type":"quantitative","scale":{"domain":[0.8185,1.3233],"nice":false,"zero":false},"axis":{"title":null}},"y2":{"field":"y2"}}},
{"data":{"name":"rects"},"transform":[{"filter":"datum.p==1 && datum.k=='trend'"}],"mark":{"type":"rect","fill":"#e4e1e3","fillOpacity":0.85,"stroke":"#cccccc","strokeWidth":3,"cornerRadius":10},"encoding":{"x":{"field":"x1","type":"quantitative","scale":{"domain":[-0.66,89.7],"nice":false,"zero":false},"axis":{"title":null}},"x2":{"field":"x2"},"y":{"field":"y1","type":"quantitative","scale":{"domain":[0.8185,1.3233],"nice":false,"zero":false},"axis":{"title":null}},"y2":{"field":"y2"}}},
{"data":{"name":"tx"},"transform":[{"filter":"datum.p==1 && datum.k=='trend'"}],"mark":{"type":"text","align":"left","baseline":"middle","fontSize":42,"color":"#888888"},"encoding":{"x":{"field":"i","type":"quantitative","scale":{"domain":[-0.66,89.7],"nice":false,"zero":false},"axis":{"title":null}},"y":{"field":"y","type":"quantitative","scale":{"domain":[0.8185,1.3233],"nice":false,"zero":false},"axis":{"title":null}},"text":{"field":"t"}}},
{"data":{"name":"pt"},"transform":[{"filter":"datum.p==1"}],"mark":{"type":"point","filled":false,"size":1250,"strokeWidth":6,"opacity":1},"encoding":{"x":{"field":"i","type":"quantitative","scale":{"domain":[-0.66,89.7],"nice":false,"zero":false},"axis":{"title":null}},"y":{"field":"y","type":"quantitative","scale":{"domain":[0.8185,1.3233],"nice":false,"zero":false},"axis":{"title":null}},"color":{"condition":{"test":"datum.k=='swh'","value":"#b22222"},"value":"#1b7f2f"}}},
{"data":{"name":"dots"},"mark":{"type":"point","filled":true,"size":700,"opacity":0.9},"encoding":{"x":{"field":"i","type":"quantitative","scale":{"domain":[-0.66,89.7],"nice":false,"zero":false},"axis":{"title":null}},"y":{"field":"y","type":"quantitative","scale":{"domain":[0.8185,1.3233],"nice":false,"zero":false},"axis":{"title":null}},"color":{"field":"k","type":"nominal","scale":{"domain":["ENG_dn","ENG_up","PB","3R_dn","3R_up"],"range":["#ff5722","#4cc552","#ff9f1c","#f06292","#26c6da"]},"legend":null}}},
{"data":{"name":"labs"},"mark":{"type":"text","lineBreak":"\n","fontSize":36,"fontWeight":"bold","lineHeight":40,"align":"center","baseline":"middle"},"encoding":{"x":{"field":"i","type":"quantitative","scale":{"domain":[-0.66,89.7],"nice":false,"zero":false},"axis":{"title":null}},"y":{"field":"y","type":"quantitative","scale":{"domain":[0.8185,1.3233],"nice":false,"zero":false},"axis":{"title":null}},"text":{"field":"t"},"color":{"field":"k","type":"nominal","scale":{"domain":["ENG_dn","ENG_up","PB","3R_dn","3R_up"],"range":["#ff5722","#4cc552","#ff9f1c","#f06292","#26c6da"]},"legend":null}}}
]}
]
},
{
"title":{"text":"1H\u00a0 AXS","anchor":"start","fontSize":42,"fontWeight":"normal","offset":14},
"width":3984,"height":1403,
"resolve":{"scale":{"y":"independent"}},
"layer":[
{"data":{"name":"rects"},"transform":[{"filter":"datum.p==2 && datum.k=='fvg'"}],"mark":{"type":"rect","fill":"#8fbf9f","fillOpacity":0.2,"stroke":"#9ccaa9","strokeWidth":3,"strokeDash":[10,6]},"encoding":{"x":{"field":"x1","type":"quantitative","scale":{"domain":[-0.66,89.7],"nice":false,"zero":false},"axis":{"title":null}},"x2":{"field":"x2"},"y":{"field":"y1","type":"quantitative","scale":{"domain":[0.901,1.2966],"nice":false,"zero":false},"axis":null},"y2":{"field":"y2"}}},
{"data":{"name":"c2"},"mark":{"type":"bar","size":27,"opacity":0.2},"encoding":{"x":{"field":"i","type":"quantitative","scale":{"domain":[-0.66,89.7],"nice":false,"zero":false},"axis":{"title":null}},"y":{"field":"v","type":"quantitative","scale":{"domain":[0,1416],"nice":false},"axis":null},"color":{"condition":{"test":"datum.c>=datum.o","value":"#e53935"},"value":"#43a047"}}},
{"layer":[
{"data":{"name":"c2"},"mark":{"type":"rule","color":"#c62828","strokeWidth":3},"encoding":{"x":{"field":"i","type":"quantitative","scale":{"domain":[-0.66,89.7],"nice":false,"zero":false},"axis":{"values":[0,20,40,60,80],"labels":false,"title":null,"grid":true}},"y":{"field":"l","type":"quantitative","scale":{"domain":[0.901,1.2966],"nice":false,"zero":false},"axis":{"orient":"left","values":[0.95,1.0,1.05,1.1,1.15,1.2,1.25],"format":".2f","title":null,"grid":true}},"y2":{"field":"h"}}},
{"data":{"name":"c2"},"mark":{"type":"bar","size":30},"encoding":{"x":{"field":"i","type":"quantitative","scale":{"domain":[-0.66,89.7],"nice":false,"zero":false},"axis":{"title":null}},"y":{"field":"o","type":"quantitative","scale":{"domain":[0.901,1.2966],"nice":false,"zero":false},"axis":{"title":null}},"y2":{"field":"c"},"color":{"condition":{"test":"datum.c>=datum.o","value":"#d32f2f"},"value":"#2e7d32"}}},
{"data":{"name":"c2"},"transform":[{"window":[{"op":"mean","field":"c","as":"m"},{"op":"count","as":"n"}],"frame":[-4,0],"sort":[{"field":"i","order":"ascending"}]},{"filter":"datum.n==5"}],"mark":{"type":"line","strokeWidth":3.5,"color":"#4a90d9"},"encoding":{"x":{"field":"i","type":"quantitative","scale":{"domain":[-0.66,89.7],"nice":false,"zero":false},"axis":{"title":null}},"y":{"field":"m","type":"quantitative","scale":{"domain":[0.901,1.2966],"nice":false,"zero":false},"axis":{"title":null}}}},
{"data":{"name":"c2"},"transform":[{"window":[{"op":"mean","field":"c","as":"m"},{"op":"count","as":"n"}],"frame":[-9,0],"sort":[{"field":"i","order":"ascending"}]},{"filter":"datum.n==10"}],"mark":{"type":"line","strokeWidth":3.5,"color":"#f5a623"},"encoding":{"x":{"field":"i","type":"quantitative","scale":{"domain":[-0.66,89.7],"nice":false,"zero":false},"axis":{"title":null}},"y":{"field":"m","type":"quantitative","scale":{"domain":[0.901,1.2966],"nice":false,"zero":false},"axis":{"title":null}}}},
{"data":{"name":"c2"},"transform":[{"window":[{"op":"mean","field":"c","as":"m"},{"op":"count","as":"n"}],"frame":[-19,0],"sort":[{"field":"i","order":"ascending"}]},{"filter":"datum.n==20"}],"mark":{"type":"line","strokeWidth":4.5,"color":"#b620e0"},"encoding":{"x":{"field":"i","type":"quantitative","scale":{"domain":[-0.66,89.7],"nice":false,"zero":false},"axis":{"title":null}},"y":{"field":"m","type":"quantitative","scale":{"domain":[0.901,1.2966],"nice":false,"zero":false},"axis":{"title":null}}}},
{"data":{"name":"rects"},"transform":[{"filter":"datum.p==2 && datum.k=='leg'"}],"mark":{"type":"rect","fill":"#ffffff","fillOpacity":0.8,"stroke":"#333333","strokeWidth":4},"encoding":{"x":{"field":"x1","type":"quantitative","scale":{"domain":[-0.66,89.7],"nice":false,"zero":false},"axis":{"title":null}},"x2":{"field":"x2"},"y":{"field":"y1","type":"quantitative","scale":{"domain":[0.901,1.2966],"nice":false,"zero":false},"axis":{"title":null}},"y2":{"field":"y2"}}},
{"data":{"name":"rects"},"transform":[{"filter":"datum.p==2 && datum.k=='htf'"}],"mark":{"type":"rect","fill":"#a5d6a7","fillOpacity":0.35,"stroke":"#7cb98a","strokeWidth":3,"strokeDash":[3,3]},"encoding":{"x":{"field":"x1","type":"quantitative","scale":{"domain":[-0.66,89.7],"nice":false,"zero":false},"axis":{"title":null}},"x2":{"field":"x2"},"y":{"field":"y1","type":"quantitative","scale":{"domain":[0.901,1.2966],"nice":false,"zero":false},"axis":{"title":null}},"y2":{"field":"y2"}}},
{"data":{"name":"rects"},"transform":[{"filter":"datum.p==2 && datum.k=='ob'"}],"mark":{"type":"rect","fill":"#e57373","fillOpacity":0.45,"stroke":"#c0474a","strokeWidth":4},"encoding":{"x":{"field":"x1","type":"quantitative","scale":{"domain":[-0.66,89.7],"nice":false,"zero":false},"axis":{"title":null}},"x2":{"field":"x2"},"y":{"field":"y1","type":"quantitative","scale":{"domain":[0.901,1.2966],"nice":false,"zero":false},"axis":{"title":null}},"y2":{"field":"y2"}}},
{"data":{"name":"rects"},"transform":[{"filter":"datum.p==2 && datum.k=='fvgs'"}],"mark":{"type":"rect","fill":"#c8e6c9","fillOpacity":0.8,"stroke":"#81c784","strokeWidth":3},"encoding":{"x":{"field":"x1","type":"quantitative","scale":{"domain":[-0.66,89.7],"nice":false,"zero":false},"axis":{"title":null}},"x2":{"field":"x2"},"y":{"field":"y1","type":"quantitative","scale":{"domain":[0.901,1.2966],"nice":false,"zero":false},"axis":{"title":null}},"y2":{"field":"y2"}}},
{"data":{"name":"seg"},"transform":[{"filter":"datum.p==2"}],"mark":{"type":"rule","strokeWidth":8},"encoding":{"x":{"field":"x1","type":"quantitative","scale":{"domain":[-0.66,89.7],"nice":false,"zero":false},"axis":{"title":null}},"x2":{"field":"x2"},"y":{"field":"y","type":"quantitative","scale":{"domain":[0.901,1.2966],"nice":false,"zero":false},"axis":{"title":null}},"stroke":{"datum":"BOS（结构突破）","type":"nominal","scale":{"domain":["FVG（公允价值缺口）","OB（订单块）","BOS（结构突破）","CHoCH（背离确认）"],"range":["#9ccaa9","#6aaa7a","#1b7f2f","#a52a2a"]},"legend":{"title":null,"orient":"none","legendX":2289,"legendY":47,"columns":2,"columnPadding":141,"rowPadding":3,"padding":0,"symbolType":"stroke","symbolSize":3600,"symbolStrokeWidth":6,"labelFontSize":42,"labelOffset":35,"labelColor":"#111111","labelLimit":1000,"encode":{"symbols":{"update":{"shape":{"signal":"datum.value === 'FVG（公允价值缺口）' ? 'square' : (datum.value === 'OB（订单块）' ? 'square' : 'stroke')"},"size":{"signal":"datum.value === 'FVG（公允价值缺口）' ? 2500 : (datum.value === 'OB（订单块）' ? 2500 : 3600)"},"fill":{"signal":"datum.value === 'FVG（公允价值缺口）' ? '#cfe6d5' : (datum.value === 'OB（订单块）' ? '#a8d4b3' : 'transparent')"},"fillOpacity":{"value":1},"strokeWidth":{"signal":"datum.value === 'FVG（公允价值缺口）' ? 3 : (datum.value === 'OB（订单块）' ? 3 : 6)"},"strokeDash":{"signal":"datum.value === 'CHoCH（背离确认）' ? [10,5] : [1,0]"}}}}}}}},
{"data":{"name":"tx"},"transform":[{"filter":"datum.p==2 && datum.k=='bos'"}],"mark":{"type":"text","align":"left","baseline":"middle","fontSize":62,"color":"#1b7f2f"},"encoding":{"x":{"field":"i","type":"quantitative","scale":{"domain":[-0.66,89.7],"nice":false,"zero":false},"axis":{"title":null}},"y":{"field":"y","type":"quantitative","scale":{"domain":[0.901,1.2966],"nice":false,"zero":false},"axis":{"title":null}},"text":{"field":"t"}}},
{"data":{"name":"tx"},"transform":[{"filter":"datum.p==2 && datum.k=='htf'"}],"mark":{"type":"text","align":"left","baseline":"middle","fontSize":52,"color":"#6aa584"},"encoding":{"x":{"field":"i","type":"quantitative","scale":{"domain":[-0.66,89.7],"nice":false,"zero":false},"axis":{"title":null}},"y":{"field":"y","type":"quantitative","scale":{"domain":[0.901,1.2966],"nice":false,"zero":false},"axis":{"title":null}},"text":{"field":"t"}}},
{"data":{"name":"tx"},"transform":[{"filter":"datum.p==2 && datum.k=='ob'"}],"mark":{"type":"text","align":"left","baseline":"middle","fontSize":70,"fontWeight":"bold","color":"#b71c1c"},"encoding":{"x":{"field":"i","type":"quantitative","scale":{"domain":[-0.66,89.7],"nice":false,"zero":false},"axis":{"title":null}},"y":{"field":"y","type":"quantitative","scale":{"domain":[0.901,1.2966],"nice":false,"zero":false},"axis":{"title":null}},"text":{"field":"t"}}},
{"data":{"name":"pt"},"transform":[{"filter":"datum.p==2"}],"mark":{"type":"point","shape":"M-1,-1L1,1M1,-1L-1,1","filled":false,"size":4500,"strokeWidth":12,"color":"#ff4f12","opacity":1},"encoding":{"x":{"field":"i","type":"quantitative","scale":{"domain":[-0.66,89.7],"nice":false,"zero":false},"axis":{"title":null}},"y":{"field":"y","type":"quantitative","scale":{"domain":[0.901,1.2966],"nice":false,"zero":false},"axis":{"title":null}}}},
{"data":{"name":"dots"},"mark":{"type":"point","filled":true,"size":700,"opacity":0.9},"encoding":{"x":{"field":"i","type":"quantitative","scale":{"domain":[-0.66,89.7],"nice":false,"zero":false},"axis":{"title":null}},"y":{"field":"y","type":"quantitative","scale":{"domain":[0.901,1.2966],"nice":false,"zero":false},"axis":{"title":null}},"color":{"field":"k","type":"nominal","scale":{"domain":["ENG_dn","ENG_up","PB","3R_dn","3R_up"],"range":["#ff5722","#4cc552","#ff9f1c","#f06292","#26c6da"]},"legend":null}}},
{"data":{"name":"labs"},"mark":{"type":"text","lineBreak":"\n","fontSize":36,"fontWeight":"bold","lineHeight":40,"align":"center","baseline":"middle"},"encoding":{"x":{"field":"i","type":"quantitative","scale":{"domain":[-0.66,89.7],"nice":false,"zero":false},"axis":{"title":null}},"y":{"field":"y","type":"quantitative","scale":{"domain":[0.901,1.2966],"nice":false,"zero":false},"axis":{"title":null}},"text":{"field":"t"},"color":{"field":"k","type":"nominal","scale":{"domain":["ENG_dn","ENG_up","PB","3R_dn","3R_up"],"range":["#ff5722","#4cc552","#ff9f1c","#f06292","#26c6da"]},"legend":null}}}
]}
]
},
{
"title":{"text":"15m\u00a0 AXS","anchor":"start","fontSize":42,"fontWeight":"normal","offset":14},
"width":3984,"height":1324,
"resolve":{"scale":{"y":"independent"}},
"layer":[
{"data":{"name":"rects"},"transform":[{"filter":"datum.p==3 && datum.k=='fvg'"}],"mark":{"type":"rect","fill":"#8fbf9f","fillOpacity":0.2,"stroke":"#9ccaa9","strokeWidth":3,"strokeDash":[10,6]},"encoding":{"x":{"field":"x1","type":"quantitative","scale":{"domain":[-0.66,89.7],"nice":false,"zero":false},"axis":{"title":null}},"x2":{"field":"x2"},"y":{"field":"y1","type":"quantitative","scale":{"domain":[0.9406,1.2946],"nice":false,"zero":false},"axis":null},"y2":{"field":"y2"}}},
{"data":{"name":"c3"},"mark":{"type":"bar","size":27,"opacity":0.2},"encoding":{"x":{"field":"i","type":"quantitative","scale":{"domain":[-0.66,89.7],"nice":false,"zero":false},"axis":{"title":null}},"y":{"field":"v","type":"quantitative","scale":{"domain":[0,1385],"nice":false},"axis":null},"color":{"condition":{"test":"datum.c>=datum.o","value":"#e53935"},"value":"#43a047"}}},
{"layer":[
{"data":{"name":"c3"},"mark":{"type":"rule","color":"#c62828","strokeWidth":3},"encoding":{"x":{"field":"i","type":"quantitative","scale":{"domain":[-0.66,89.7],"nice":false,"zero":false},"axis":{"values":[0,20,40,60,80],"labels":false,"title":null,"grid":true}},"y":{"field":"l","type":"quantitative","scale":{"domain":[0.9406,1.2946],"nice":false,"zero":false},"axis":{"orient":"left","values":[0.95,1.0,1.05,1.1,1.15,1.2,1.25],"format":".2f","title":null,"grid":true}},"y2":{"field":"h"}}},
{"data":{"name":"c3"},"mark":{"type":"bar","size":30},"encoding":{"x":{"field":"i","type":"quantitative","scale":{"domain":[-0.66,89.7],"nice":false,"zero":false},"axis":{"title":null}},"y":{"field":"o","type":"quantitative","scale":{"domain":[0.9406,1.2946],"nice":false,"zero":false},"axis":{"title":null}},"y2":{"field":"c"},"color":{"condition":{"test":"datum.c>=datum.o","value":"#d32f2f"},"value":"#2e7d32"}}},
{"data":{"name":"c3"},"transform":[{"window":[{"op":"mean","field":"c","as":"m"},{"op":"count","as":"n"}],"frame":[-4,0],"sort":[{"field":"i","order":"ascending"}]},{"filter":"datum.n==5"}],"mark":{"type":"line","strokeWidth":3.5,"color":"#4a90d9"},"encoding":{"x":{"field":"i","type":"quantitative","scale":{"domain":[-0.66,89.7],"nice":false,"zero":false},"axis":{"title":null}},"y":{"field":"m","type":"quantitative","scale":{"domain":[0.9406,1.2946],"nice":false,"zero":false},"axis":{"title":null}}}},
{"data":{"name":"c3"},"transform":[{"window":[{"op":"mean","field":"c","as":"m"},{"op":"count","as":"n"}],"frame":[-9,0],"sort":[{"field":"i","order":"ascending"}]},{"filter":"datum.n==10"}],"mark":{"type":"line","strokeWidth":3.5,"color":"#f5a623"},"encoding":{"x":{"field":"i","type":"quantitative","scale":{"domain":[-0.66,89.7],"nice":false,"zero":false},"axis":{"title":null}},"y":{"field":"m","type":"quantitative","scale":{"domain":[0.9406,1.2946],"nice":false,"zero":false},"axis":{"title":null}}}},
{"data":{"name":"c3"},"transform":[{"window":[{"op":"mean","field":"c","as":"m"},{"op":"count","as":"n"}],"frame":[-19,0],"sort":[{"field":"i","order":"ascending"}]},{"filter":"datum.n==20"}],"mark":{"type":"line","strokeWidth":4.5,"color":"#b620e0"},"encoding":{"x":{"field":"i","type":"quantitative","scale":{"domain":[-0.66,89.7],"nice":false,"zero":false},"axis":{"title":null}},"y":{"field":"m","type":"quantitative","scale":{"domain":[0.9406,1.2946],"nice":false,"zero":false},"axis":{"title":null}}}},
{"data":{"name":"rects"},"transform":[{"filter":"datum.p==3 && datum.k=='leg'"}],"mark":{"type":"rect","fill":"#ffffff","fillOpacity":0.8,"stroke":"#333333","strokeWidth":4},"encoding":{"x":{"field":"x1","type":"quantitative","scale":{"domain":[-0.66,89.7],"nice":false,"zero":false},"axis":{"title":null}},"x2":{"field":"x2"},"y":{"field":"y1","type":"quantitative","scale":{"domain":[0.9406,1.2946],"nice":false,"zero":false},"axis":{"title":null}},"y2":{"field":"y2"}}},
{"data":{"name":"rects"},"transform":[{"filter":"datum.p==3 && datum.k=='htf'"}],"mark":{"type":"rect","fill":"#a5d6a7","fillOpacity":0.35,"stroke":"#7cb98a","strokeWidth":3,"strokeDash":[3,3]},"encoding":{"x":{"field":"x1","type":"quantitative","scale":{"domain":[-0.66,89.7],"nice":false,"zero":false},"axis":{"title":null}},"x2":{"field":"x2"},"y":{"field":"y1","type":"quantitative","scale":{"domain":[0.9406,1.2946],"nice":false,"zero":false},"axis":{"title":null}},"y2":{"field":"y2"}}},
{"data":{"name":"rects"},"transform":[{"filter":"datum.p==3 && datum.k=='ob'"}],"mark":{"type":"rect","fill":"#e57373","fillOpacity":0.45,"stroke":"#c0474a","strokeWidth":4},"encoding":{"x":{"field":"x1","type":"quantitative","scale":{"domain":[-0.66,89.7],"nice":false,"zero":false},"axis":{"title":null}},"x2":{"field":"x2"},"y":{"field":"y1","type":"quantitative","scale":{"domain":[0.9406,1.2946],"nice":false,"zero":false},"axis":{"title":null}},"y2":{"field":"y2"}}},
{"data":{"name":"rects"},"transform":[{"filter":"datum.p==3 && datum.k=='fvgb'"}],"mark":{"type":"rect","fill":"#f8bbd0","fillOpacity":0.5,"stroke":"#d88a9a","strokeWidth":3},"encoding":{"x":{"field":"x1","type":"quantitative","scale":{"domain":[-0.66,89.7],"nice":false,"zero":false},"axis":{"title":null}},"x2":{"field":"x2"},"y":{"field":"y1","type":"quantitative","scale":{"domain":[0.9406,1.2946],"nice":false,"zero":false},"axis":{"title":null}},"y2":{"field":"y2"}}},
{"data":{"name":"seg"},"transform":[{"filter":"datum.p==3"}],"mark":{"type":"rule","strokeWidth":8},"encoding":{"x":{"field":"x1","type":"quantitative","scale":{"domain":[-0.66,89.7],"nice":false,"zero":false},"axis":{"title":null}},"x2":{"field":"x2"},"y":{"field":"y","type":"quantitative","scale":{"domain":[0.9406,1.2946],"nice":false,"zero":false},"axis":{"title":null}},"stroke":{"datum":"BOS（结构突破）","type":"nominal","scale":{"domain":["FVG（公允价值缺口）","OB（订单块）","BOS（结构突破）","CHoCH（背离确认）"],"range":["#9ccaa9","#6aaa7a","#1b7f2f","#a52a2a"]},"legend":{"title":null,"orient":"none","legendX":2289,"legendY":39,"columns":2,"columnPadding":141,"rowPadding":3,"padding":0,"symbolType":"stroke","symbolSize":3600,"symbolStrokeWidth":6,"labelFontSize":42,"labelOffset":35,"labelColor":"#111111","labelLimit":1000,"encode":{"symbols":{"update":{"shape":{"signal":"datum.value === 'FVG（公允价值缺口）' ? 'square' : (datum.value === 'OB（订单块）' ? 'square' : 'stroke')"},"size":{"signal":"datum.value === 'FVG（公允价值缺口）' ? 2500 : (datum.value === 'OB（订单块）' ? 2500 : 3600)"},"fill":{"signal":"datum.value === 'FVG（公允价值缺口）' ? '#cfe6d5' : (datum.value === 'OB（订单块）' ? '#a8d4b3' : 'transparent')"},"fillOpacity":{"value":1},"strokeWidth":{"signal":"datum.value === 'FVG（公允价值缺口）' ? 3 : (datum.value === 'OB（订单块）' ? 3 : 6)"},"strokeDash":{"signal":"datum.value === 'CHoCH（背离确认）' ? [10,5] : [1,0]"}}}}}}}},
{"data":{"name":"tx"},"transform":[{"filter":"datum.p==3 && datum.k=='htf'"}],"mark":{"type":"text","align":"left","baseline":"middle","fontSize":52,"color":"#6aa584"},"encoding":{"x":{"field":"i","type":"quantitative","scale":{"domain":[-0.66,89.7],"nice":false,"zero":false},"axis":{"title":null}},"y":{"field":"y","type":"quantitative","scale":{"domain":[0.9406,1.2946],"nice":false,"zero":false},"axis":{"title":null}},"text":{"field":"t"}}},
{"data":{"name":"tx"},"transform":[{"filter":"datum.p==3 && datum.k=='ob'"}],"mark":{"type":"text","align":"left","baseline":"middle","fontSize":66,"fontWeight":"bold","color":"#b71c1c"},"encoding":{"x":{"field":"i","type":"quantitative","scale":{"domain":[-0.66,89.7],"nice":false,"zero":false},"axis":{"title":null}},"y":{"field":"y","type":"quantitative","scale":{"domain":[0.9406,1.2946],"nice":false,"zero":false},"axis":{"title":null}},"text":{"field":"t"}}},
{"data":{"name":"pt"},"transform":[{"filter":"datum.p==3"}],"mark":{"type":"point","shape":"M-1,-1L1,1M1,-1L-1,1","filled":false,"size":4500,"strokeWidth":12,"color":"#ff4f12","opacity":1},"encoding":{"x":{"field":"i","type":"quantitative","scale":{"domain":[-0.66,89.7],"nice":false,"zero":false},"axis":{"title":null}},"y":{"field":"y","type":"quantitative","scale":{"domain":[0.9406,1.2946],"nice":false,"zero":false},"axis":{"title":null}}}},
{"data":{"name":"dots"},"mark":{"type":"point","filled":true,"size":700,"opacity":0.9},"encoding":{"x":{"field":"i","type":"quantitative","scale":{"domain":[-0.66,89.7],"nice":false,"zero":false},"axis":{"title":null}},"y":{"field":"y","type":"quantitative","scale":{"domain":[0.9406,1.2946],"nice":false,"zero":false},"axis":{"title":null}},"color":{"field":"k","type":"nominal","scale":{"domain":["ENG_dn","ENG_up","PB","3R_dn","3R_up"],"range":["#ff5722","#4cc552","#ff9f1c","#f06292","#26c6da"]},"legend":null}}},
{"data":{"name":"labs"},"mark":{"type":"text","lineBreak":"\n","fontSize":36,"fontWeight":"bold","lineHeight":40,"align":"center","baseline":"middle"},"encoding":{"x":{"field":"i","type":"quantitative","scale":{"domain":[-0.66,89.7],"nice":false,"zero":false},"axis":{"title":null}},"y":{"field":"y","type":"quantitative","scale":{"domain":[0.9406,1.2946],"nice":false,"zero":false},"axis":{"title":null}},"text":{"field":"t"},"color":{"field":"k","type":"nominal","scale":{"domain":["ENG_dn","ENG_up","PB","3R_dn","3R_up"],"range":["#ff5722","#4cc552","#ff9f1c","#f06292","#26c6da"]},"legend":null}}}
]}
]
},
{
"title":{"text":"3m\u00a0 AXS","anchor":"start","fontSize":42,"fontWeight":"normal","offset":14},
"width":3984,"height":1257,
"resolve":{"scale":{"y":"independent"}},
"layer":[
{"data":{"name":"rects"},"transform":[{"filter":"datum.p==4 && datum.k=='fvg'"}],"mark":{"type":"rect","fill":"#8fbf9f","fillOpacity":0.2,"stroke":"#9ccaa9","strokeWidth":3,"strokeDash":[10,6]},"encoding":{"x":{"field":"x1","type":"quantitative","scale":{"domain":[-0.66,89.7],"nice":false,"zero":false},"axis":{"title":null}},"x2":{"field":"x2"},"y":{"field":"y1","type":"quantitative","scale":{"domain":[0.941,1.2954],"nice":false,"zero":false},"axis":null},"y2":{"field":"y2"}}},
{"data":{"name":"c4"},"mark":{"type":"bar","size":27,"opacity":0.2},"encoding":{"x":{"field":"i","type":"quantitative","scale":{"domain":[-0.66,89.7],"nice":false,"zero":false},"axis":{"title":null}},"y":{"field":"v","type":"quantitative","scale":{"domain":[0,1253],"nice":false},"axis":null},"color":{"condition":{"test":"datum.c>=datum.o","value":"#e53935"},"value":"#43a047"}}},
{"layer":[
{"data":{"name":"c4"},"mark":{"type":"rule","color":"#c62828","strokeWidth":3},"encoding":{"x":{"field":"i","type":"quantitative","scale":{"domain":[-0.66,89.7],"nice":false,"zero":false},"axis":{"values":[0,11,22,33,44,55,66,77,88],"labelExpr":"['06-20 21:18','06-20 21:51','06-20 22:24','06-20 22:57','06-20 23:30','06-21 00:03','06-21 00:36','06-21 01:09','06-21 01:42'][round(datum.value/11)]","labelAngle":-30,"labelAlign":"right","labelBaseline":"top","labelLimit":600,"labelOverlap":false,"labelFlush":false,"title":"Date","titleFontSize":34,"titleColor":"#333333","titleFontWeight":"normal","titlePadding":20,"grid":true}},"y":{"field":"l","type":"quantitative","scale":{"domain":[0.941,1.2954],"nice":false,"zero":false},"axis":{"orient":"left","values":[0.95,1.0,1.05,1.1,1.15,1.2,1.25],"format":".2f","title":null,"grid":true}},"y2":{"field":"h"}}},
{"data":{"name":"c4"},"mark":{"type":"bar","size":30},"encoding":{"x":{"field":"i","type":"quantitative","scale":{"domain":[-0.66,89.7],"nice":false,"zero":false},"axis":{"title":null}},"y":{"field":"o","type":"quantitative","scale":{"domain":[0.941,1.2954],"nice":false,"zero":false},"axis":{"title":null}},"y2":{"field":"c"},"color":{"condition":{"test":"datum.c>=datum.o","value":"#d32f2f"},"value":"#2e7d32"}}},
{"data":{"name":"c4"},"transform":[{"window":[{"op":"mean","field":"c","as":"m"},{"op":"count","as":"n"}],"frame":[-4,0],"sort":[{"field":"i","order":"ascending"}]},{"filter":"datum.n==5"}],"mark":{"type":"line","strokeWidth":3.5,"color":"#4a90d9"},"encoding":{"x":{"field":"i","type":"quantitative","scale":{"domain":[-0.66,89.7],"nice":false,"zero":false},"axis":{"title":null}},"y":{"field":"m","type":"quantitative","scale":{"domain":[0.941,1.2954],"nice":false,"zero":false},"axis":{"title":null}}}},
{"data":{"name":"c4"},"transform":[{"window":[{"op":"mean","field":"c","as":"m"},{"op":"count","as":"n"}],"frame":[-9,0],"sort":[{"field":"i","order":"ascending"}]},{"filter":"datum.n==10"}],"mark":{"type":"line","strokeWidth":3.5,"color":"#f5a623"},"encoding":{"x":{"field":"i","type":"quantitative","scale":{"domain":[-0.66,89.7],"nice":false,"zero":false},"axis":{"title":null}},"y":{"field":"m","type":"quantitative","scale":{"domain":[0.941,1.2954],"nice":false,"zero":false},"axis":{"title":null}}}},
{"data":{"name":"c4"},"transform":[{"window":[{"op":"mean","field":"c","as":"m"},{"op":"count","as":"n"}],"frame":[-19,0],"sort":[{"field":"i","order":"ascending"}]},{"filter":"datum.n==20"}],"mark":{"type":"line","strokeWidth":4.5,"color":"#b620e0"},"encoding":{"x":{"field":"i","type":"quantitative","scale":{"domain":[-0.66,89.7],"nice":false,"zero":false},"axis":{"title":null}},"y":{"field":"m","type":"quantitative","scale":{"domain":[0.941,1.2954],"nice":false,"zero":false},"axis":{"title":null}}}},
{"data":{"name":"hl"},"transform":[{"filter":"datum.p==4 && datum.k=='eqh'"}],"mark":{"type":"rule","color":"#d64545","strokeWidth":5,"strokeDash":[21,12]},"encoding":{"y":{"field":"y","type":"quantitative","scale":{"domain":[0.941,1.2954],"nice":false,"zero":false},"axis":{"title":null}}}},
{"data":{"name":"hl"},"transform":[{"filter":"datum.p==4 && datum.k=='eql'"}],"mark":{"type":"rule","strokeWidth":5,"strokeDash":[21,12]},"encoding":{"y":{"field":"y","type":"quantitative","scale":{"domain":[0.941,1.2954],"nice":false,"zero":false},"axis":{"title":null}},"stroke":{"datum":"EQL（等值低点）","type":"nominal","scale":{"domain":["EQH（等值高点）","EQL（等值低点）","Displacement（位移）"],"range":["#9c27b0","#2e9a46","#ff9800"]},"legend":{"title":null,"orient":"none","legendX":2324,"legendY":43,"columns":2,"columnPadding":139,"rowPadding":4,"padding":0,"symbolType":"stroke","symbolSize":3600,"symbolStrokeWidth":5,"labelFontSize":42,"labelOffset":35,"labelColor":"#111111","labelLimit":1000,"encode":{"symbols":{"update":{"shape":{"signal":"datum.value === 'Displacement（位移）' ? 'triangle-up' : 'stroke'"},"size":{"signal":"datum.value === 'Displacement（位移）' ? 700 : 3600"},"fill":{"signal":"datum.value === 'Displacement（位移）' ? '#ff9800' : 'transparent'"},"stroke":{"signal":"datum.value === 'Displacement（位移）' ? '#333333' : (datum.value === 'EQH（等值高点）' ? '#9c27b0' : '#2e9a46')"},"fillOpacity":{"value":1},"strokeWidth":{"signal":"datum.value === 'Displacement（位移）' ? 2 : 5"},"strokeDash":{"signal":"datum.value === 'Displacement（位移）' ? [1,0] : [10,5]"}}}}}}}},
{"data":{"name":"rects"},"transform":[{"filter":"datum.p==4 && datum.k=='leg'"}],"mark":{"type":"rect","fill":"#ffffff","fillOpacity":0.8,"stroke":"#333333","strokeWidth":4},"encoding":{"x":{"field":"x1","type":"quantitative","scale":{"domain":[-0.66,89.7],"nice":false,"zero":false},"axis":{"title":null}},"x2":{"field":"x2"},"y":{"field":"y1","type":"quantitative","scale":{"domain":[0.941,1.2954],"nice":false,"zero":false},"axis":{"title":null}},"y2":{"field":"y2"}}},
{"data":{"name":"tx"},"transform":[{"filter":"datum.p==4 && datum.k=='eqh'"}],"mark":{"type":"text","align":"left","baseline":"middle","fontSize":40,"color":"#c62828"},"encoding":{"x":{"field":"i","type":"quantitative","scale":{"domain":[-0.66,89.7],"nice":false,"zero":false},"axis":{"title":null}},"y":{"field":"y","type":"quantitative","scale":{"domain":[0.941,1.2954],"nice":false,"zero":false},"axis":{"title":null}},"text":{"field":"t"}}},
{"data":{"name":"tx"},"transform":[{"filter":"datum.p==4 && datum.k=='eql'"}],"mark":{"type":"text","align":"left","baseline":"middle","fontSize":40,"color":"#1e8e3e"},"encoding":{"x":{"field":"i","type":"quantitative","scale":{"domain":[-0.66,89.7],"nice":false,"zero":false},"axis":{"title":null}},"y":{"field":"y","type":"quantitative","scale":{"domain":[0.941,1.2954],"nice":false,"zero":false},"axis":{"title":null}},"text":{"field":"t"}}},
{"data":{"name":"tx"},"transform":[{"filter":"datum.p==4 && datum.k=='entry'"}],"mark":{"type":"text","align":"center","baseline":"middle","fontSize":40,"color":"#b22222"},"encoding":{"x":{"field":"i","type":"quantitative","scale":{"domain":[-0.66,89.7],"nice":false,"zero":false},"axis":{"title":null}},"y":{"field":"y","type":"quantitative","scale":{"domain":[0.941,1.2954],"nice":false,"zero":false},"axis":{"title":null}},"text":{"field":"t"}}},
{"data":{"name":"pt"},"transform":[{"filter":"datum.p==4 && datum.k=='entry'"}],"mark":{"type":"point","filled":false,"size":1150,"strokeWidth":5,"color":"#b22222","opacity":1},"encoding":{"x":{"field":"i","type":"quantitative","scale":{"domain":[-0.66,89.7],"nice":false,"zero":false},"axis":{"title":null}},"y":{"field":"y","type":"quantitative","scale":{"domain":[0.941,1.2954],"nice":false,"zero":false},"axis":{"title":null}}}},
{"data":{"name":"pt"},"transform":[{"filter":"datum.p==4 && datum.k=='disp'"}],"mark":{"type":"point","shape":"triangle-down","filled":true,"size":1700,"color":"#ff9500","opacity":1},"encoding":{"x":{"field":"i","type":"quantitative","scale":{"domain":[-0.66,89.7],"nice":false,"zero":false},"axis":{"title":null}},"y":{"field":"y","type":"quantitative","scale":{"domain":[0.941,1.2954],"nice":false,"zero":false},"axis":{"title":null}}}},
{"data":{"name":"dots"},"transform":[{"filter":{"field":"i","oneOf":[19,20,21,23,56,57,59,61,62,64,87,88]}}],"mark":{"type":"point","filled":true,"size":700,"opacity":0.9},"encoding":{"x":{"field":"i","type":"quantitative","scale":{"domain":[-0.66,89.7],"nice":false,"zero":false},"axis":{"title":null}},"y":{"field":"y","type":"quantitative","scale":{"domain":[0.941,1.2954],"nice":false,"zero":false},"axis":{"title":null}},"color":{"field":"k","type":"nominal","scale":{"domain":["ENG_dn","ENG_up","PB","3R_dn","3R_up"],"range":["#ff5722","#4cc552","#ff9f1c","#f06292","#26c6da"]},"legend":null}}},
{"data":{"name":"labs"},"transform":[{"filter":{"field":"i","oneOf":[19,20,21,23,56,57,59,61,62,64,87,88]}}],"mark":{"type":"text","lineBreak":"\n","fontSize":36,"fontWeight":"bold","lineHeight":40,"align":"center","baseline":"middle"},"encoding":{"x":{"field":"i","type":"quantitative","scale":{"domain":[-0.66,89.7],"nice":false,"zero":false},"axis":{"title":null}},"y":{"field":"y","type":"quantitative","scale":{"domain":[0.941,1.2954],"nice":false,"zero":false},"axis":{"title":null}},"text":{"field":"t"},"color":{"field":"k","type":"nominal","scale":{"domain":["ENG_dn","ENG_up","PB","3R_dn","3R_up"],"range":["#ff5722","#4cc552","#ff9f1c","#f06292","#26c6da"]},"legend":null}}}
]}
]
}
],
"config":{
"font":"Noto Sans CJK SC",
"view":{"stroke":"#000000","strokeWidth":3.5,"fill":"#fafafa"},
"axis":{"domain":false,"ticks":true,"tickColor":"#000000","tickWidth":3,"tickSize":14,"labelFont":"Noto Sans CJK SC","labelFontSize":42,"labelColor":"#000000","labelPadding":14,"gridColor":"#d9d9d9","gridDash":[6,6],"gridWidth":2,"gridOpacity":0.8,"titleFont":"Noto Sans CJK SC"},
"legend":{"labelFont":"Noto Sans CJK SC"},
"title":{"font":"Noto Sans CJK SC","fontWeight":"normal","color":"#111111"},
"text":{"font":"Noto Sans CJK SC"}
}
}
